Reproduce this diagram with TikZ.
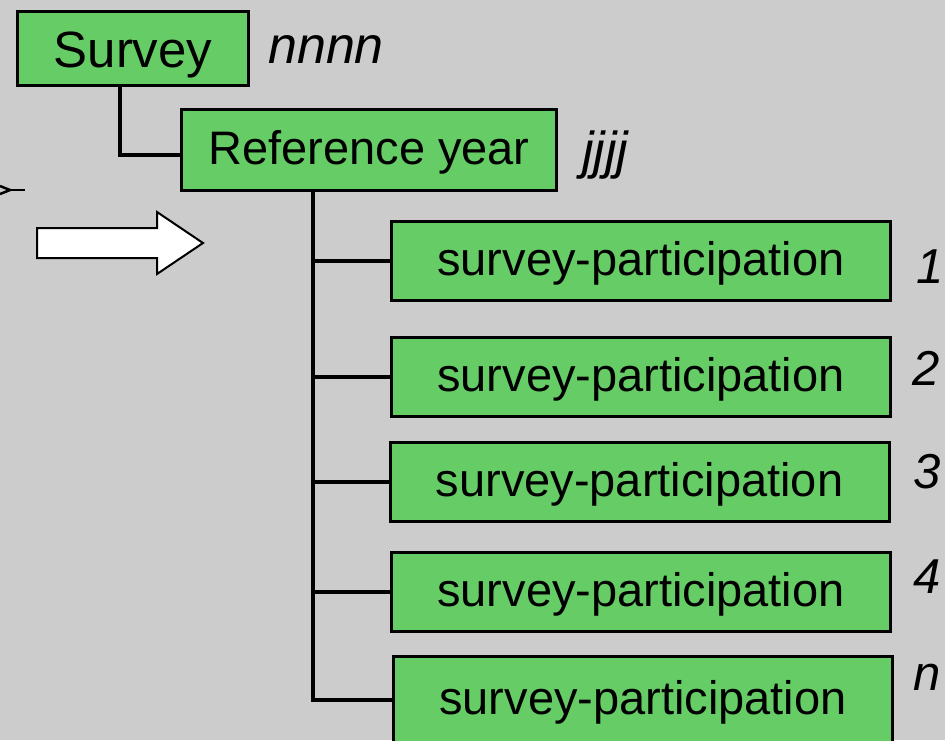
\documentclass[tikz,border=0pt]{standalone}
\usepackage{fontspec}
\setmainfont{Liberation Sans}
\usetikzlibrary{positioning}
\definecolor{levelColor}{RGB}{102,204,102}
\definecolor{backColor}{RGB}{204,204,204}
\tikzset{level/.style={fill=levelColor, draw, line width=3pt, inner sep=0pt, text height=33pt, text depth=5pt, font=\fontsize{47}{50}\selectfont}}
\tikzset{participation/.style={level, minimum width=499pt, minimum height=79pt, font=\fontsize{47}{50}\selectfont}}
\tikzset{counter/.style={anchor=base west, inner sep=0pt, font=\fontsize{49}{52}\selectfont\itshape}}

\begin{document}
\begin{tikzpicture}[x=1pt, y=1pt, node distance=25pt]
	\fill[backColor] (0,0) rectangle (945,-740);
	\useasboundingbox (0,0) rectangle (945,-740);

	% Nodes
	\node (survey) [level, minimum width=231pt, minimum height=74pt, font=\fontsize{51}{54}\selectfont, text height=37pt, text depth=0pt] at (133,-48.5) {Survey};
	\node (refyear) [level, minimum width=375pt, minimum height=81pt] at (369,-150) {Reference year};

	\node (part1) [participation] at (641,-261) {survey-participation};
	\node (part2) [participation, below=34pt of part1] {survey-participation};
	\node (part3) [participation, below=23pt of part2, xshift=-1.5pt] {survey-participation};
	\node (part4) [participation, below=28pt of part3, xshift=1.5pt] {survey-participation};
	\node (part5) [participation, below=22pt of part4, xshift=2pt, minimum height=87pt] {survey-participation};

	\node (nnnn) [counter, font=\fontsize{52}{54}\selectfont\itshape] at (268,-63) {nnnn};
	\node (jjjj) [counter, font=\fontsize{52}{54}\selectfont\itshape] at (582,-168) {jjjj};
	\node (idx1) [counter] at (916,-283) {1};
	\node (idx2) [counter] at (912,-385) {2};
	\node (idx3) [counter] at (913,-488) {3};
	\node (idx4) [counter] at (913,-593) {4};
	\node (idxn) [counter] at (913,-690) {n};

	% Arrow
	\draw[fill=white, line width=2pt] (37,-228) -- (157,-228) -- (157,-212) -- (203,-243) -- (157,-274) -- (157,-258) -- (37,-258) -- cycle;
	\draw[line width=2.5pt] (0,-186) -- (10,-190) -- (0,-194);
	\draw[line width=2.5pt] (8,-190) -- (25,-190);

	% Connectors
	\begin{scope}[line width=3.5pt]
		\draw ([xshift=-13pt]survey.south) |- ([yshift=-5pt]refyear.west);
		\coordinate (spine) at ([xshift=-56pt]refyear.south);
		\draw (spine) |- (part5.west);
		\foreach \i in {1,...,4}
			\draw (spine |- part\i.west) -- (part\i.west);
	\end{scope}

\end{tikzpicture}
\end{document}
